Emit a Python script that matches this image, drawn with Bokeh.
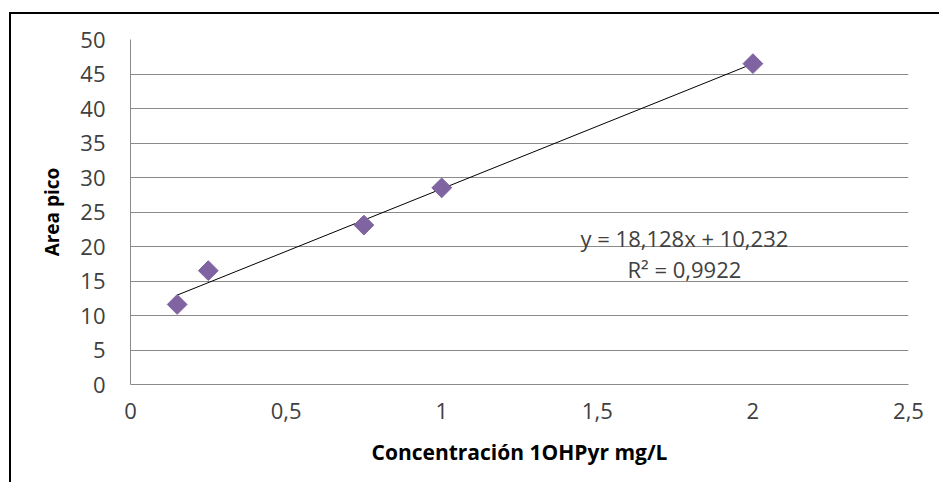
import math
from bokeh.plotting import figure
from bokeh.models import ColumnDataSource, FixedTicker, CustomJSTickFormatter, Label
from bokeh.embed import file_html
from bokeh.resources import INLINE

# Data
concentracion = [0.15, 0.25, 0.75, 1.0, 2.0]
area_pico = [11.6, 16.5, 23.1, 28.5, 46.5]
slope = 18.128
intercept = 10.232
r2_text = "R² = 0,9922"
eq_text = "y = 18,128x + 10,232"
x_ticks = [0, 0.5, 1, 1.5, 2, 2.5]
y_ticks = [0, 5, 10, 15, 20, 25, 30, 35, 40, 45, 50]

FONT = "Open Sans"
TXT = "#404040"

p = figure(width=930, height=470, output_backend="svg", toolbar_location=None,
           x_range=(0, 2.5), y_range=(0, 50),
           min_border_left=119, min_border_top=25, min_border_right=33, min_border_bottom=100)
p.styles = {"border-left": "2px solid black", "border-top": "2px solid black",
            "margin-left": "9px", "margin-top": "12px"}
p.outline_line_color = None
p.background_fill_color = "white"
p.border_fill_color = "white"

p.xgrid.grid_line_color = None
p.ygrid.grid_line_color = "#8a8a8a"
p.ygrid.grid_line_width = 1
p.ygrid.ticker = FixedTicker(ticks=y_ticks)
p.xaxis.ticker = FixedTicker(ticks=x_ticks)
p.yaxis.ticker = FixedTicker(ticks=y_ticks)

fmt = CustomJSTickFormatter(code="return tick.toString().replace('.', ',');")
p.xaxis.formatter = fmt

for ax in (p.xaxis[0], p.yaxis[0]):
    ax.axis_line_color = "#8a8a8a"
    ax.major_tick_line_color = None
    ax.minor_tick_line_color = None
    ax.major_label_text_font = FONT
    ax.major_label_text_font_size = "22px"
    ax.major_label_text_color = TXT
    ax.axis_label_text_font = FONT
    ax.axis_label_text_font_style = "bold"
    ax.axis_label_text_color = "black"

p.xaxis.axis_label_text_font_size = "21px"
p.yaxis.axis_label_text_font_size = "19px"
p.xaxis.major_label_standoff = 12
p.yaxis.major_label_standoff = 19
p.xaxis.axis_label = "Concentración 1OHPyr mg/L"
p.yaxis.axis_label = "Area pico"
p.xaxis.axis_label_standoff = 16
p.yaxis.axis_label_standoff = 12

# Trendline
xs = [min(concentracion), max(concentracion)]
ys = [slope * x + intercept for x in xs]
p.line(xs, ys, line_color="black", line_width=1)

src = ColumnDataSource(dict(x=concentracion, y=area_pico))
p.scatter("x", "y", source=src, marker="square", size=14, angle=math.pi / 4,
          fill_color="#8064A2", line_color="#8064A2")

p.add_layout(Label(x=1.78, y=21.16, text=eq_text, text_align="center", text_baseline="middle",
                   text_font=FONT, text_font_size="22px", text_color=TXT))
p.add_layout(Label(x=1.78, y=16.8, text=r2_text, text_align="center", text_baseline="middle",
                   text_font=FONT, text_font_size="22px", text_color=TXT))

open("out.html", "w").write(file_html(p, INLINE))
